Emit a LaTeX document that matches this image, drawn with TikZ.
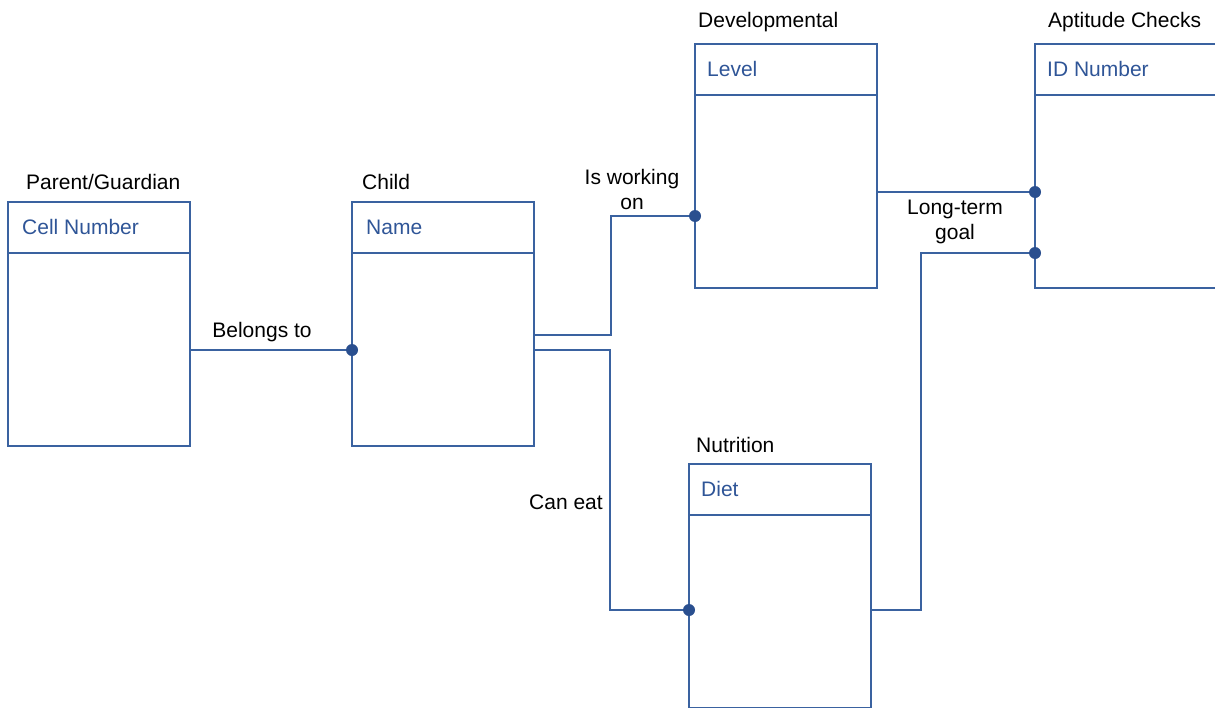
\documentclass[tikz,border=0pt]{standalone}
\usepackage{fontspec}
\setmainfont{Liberation Sans}
\definecolor{erblue}{HTML}{3A62A0}
\definecolor{keyblue}{HTML}{2F5597}
\definecolor{dotblue}{HTML}{2A4F8F}
\begin{document}
\begin{tikzpicture}[x=1pt,y=-1pt,
  entity/.style={draw=erblue, line width=1.4pt, rectangle, minimum width=182pt,
    minimum height=244pt, anchor=north west, inner sep=0pt, outer sep=0pt},
  divider/.style={draw=erblue, line width=1.4pt},
  link/.style={draw=erblue, line width=1.4pt},
  title/.style={font=\fontsize{21}{24}\selectfont, text=black, inner sep=0pt, anchor=base west},
  keyname/.style={font=\fontsize{21}{24}\selectfont, text=keyblue, inner sep=0pt, anchor=base west},
  label/.style={font=\fontsize{21}{25}\selectfont, text=black, inner sep=0pt, align=center},
  dotfill/.style={fill=dotblue}]
\useasboundingbox (0,0) rectangle (1215,707);
\clip (0,0) rectangle (1215,707);

% entity boxes
\node[entity] (pg)  at (8,202)   {};
\node[entity] (ch)  at (352,202) {};
\node[entity] (dev) at (695,44)  {};
\node[entity] (apt) at (1035,44) {};
\node[entity] (nut) at (689,464) {};

% header dividers
\foreach \b in {pg,ch,dev,apt,nut}
  \draw[divider] ([yshift=-51pt]\b.north west) -- ([yshift=-51pt]\b.north east);

% titles
\node[title] (pgt)  at (26,189)   {Parent/Guardian};
\node[title] (cht)  at (362,189)  {Child};
\node[title] (devt) at (698,27)   {Developmental};
\node[title] (aptt) at (1048,27)  {Aptitude Checks};
\node[title] (nutt) at (696,452)  {Nutrition};

% key attributes
\node[keyname] (pgk)  at (22,234)   {Cell Number};
\node[keyname] (chk)  at (366,234)  {Name};
\node[keyname] (devk) at (707,76)   {Level};
\node[keyname] (aptk) at (1047,76)  {ID Number};
\node[keyname] (nutk) at (701,496)  {Diet};

% connection points on the entity borders
\coordinate (p1) at ([yshift=-26pt]ch.west);
\coordinate (p2) at ([yshift=-50pt]dev.west);
\coordinate (p3) at ([yshift=-24pt]nut.west);
\coordinate (p4) at ([yshift=-26pt]apt.west);
\coordinate (p5) at ([yshift=-87pt]apt.west);

% Belongs to
\draw[link] ([yshift=-26pt]pg.east) -- (p1);
\node[label] (l1) at (262,332) {Belongs to};

% Is working on
\draw[link] ([yshift=-11pt]ch.east) -| (611,216) -- (p2);
\node[label] (l2) at (632,189) {Is working\\on};

% Can eat
\draw[link] ([yshift=-26pt]ch.east) -| (610,610) -- (p3);
\node[label] (l3) at (566,502) {Can eat};

% Developmental to Aptitude Checks
\draw[link] ([yshift=-26pt]dev.east) -- (p4);

% Long-term goal
\draw[link] ([yshift=-24pt]nut.east) -| (921,253) -- (p5);
\node[label] (l5) at (955,222) {Long-term\\goal};

% participation dots
\foreach \p in {p1,p2,p3,p4,p5}
  \fill[dotfill] (\p) circle[radius=6pt];
\end{tikzpicture}
\end{document}
